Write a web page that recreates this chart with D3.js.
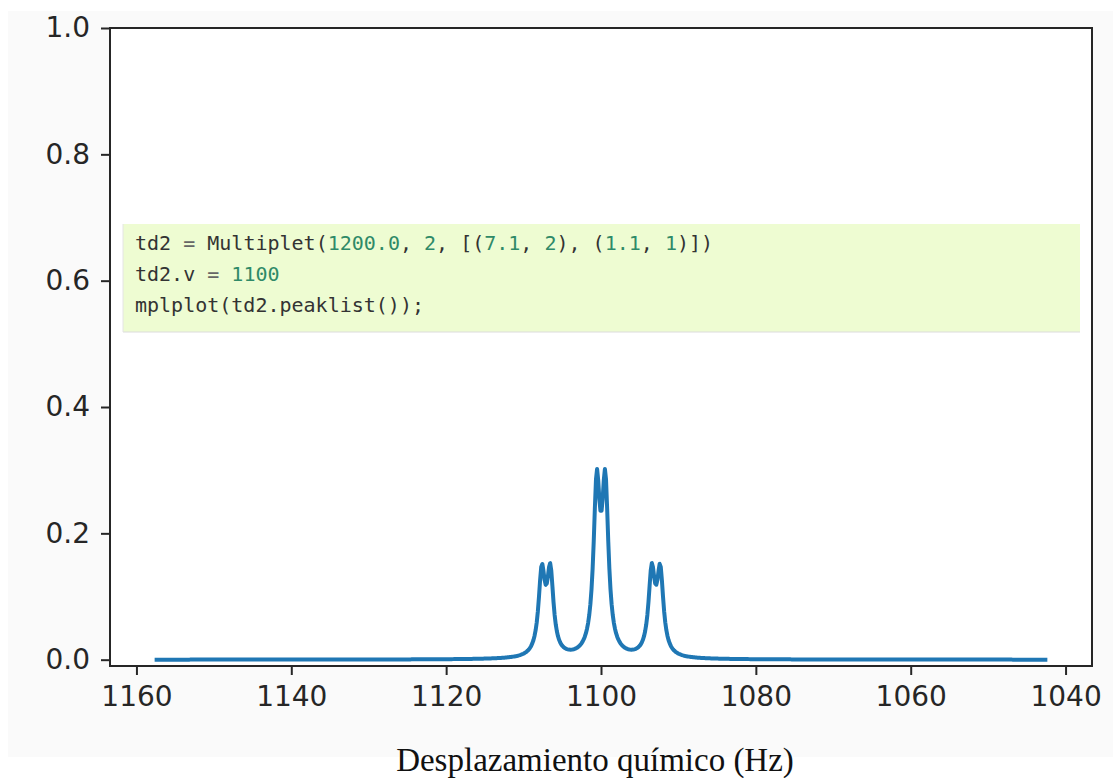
<!DOCTYPE html>
<html>
<head>
<meta charset="utf-8">
<script src="https://cdn.jsdelivr.net/npm/d3@7"></script>
<style>
  body { margin: 0; background: #fff; }
  svg { display: block; }
</style>
</head>
<body>
<div id="chart"></div>
<script>
// peak list (Hz, intensity), 1 Hz linewidth
const peakFreqs = [1092.35, 1093.45, 1099.45, 1100.55, 1106.55, 1107.65];
const peakInts = [0.4, 0.4, 0.8, 0.8, 0.4, 0.4];
const lineWidthHz = 1;
const nPoints = 800;

const xTicks = [1160, 1140, 1120, 1100, 1080, 1060, 1040];
const yTicks = [0.0, 0.2, 0.4, 0.6, 0.8, 1.0];
const yLimits = [-0.01, 1];

const xLabel = 'Desplazamiento químico (Hz)';

// code cell text, [token, kind]
const codeLines = [
    [['td2 ', 'id'], ['=', 'op'], [' Multiplet(', 'id'], ['1200.0', 'num'], [', ', 'id'], ['2', 'num'],
     [', [(', 'id'], ['7.1', 'num'], [', ', 'id'], ['2', 'num'], ['), (', 'id'], ['1.1', 'num'],
     [', ', 'id'], ['1', 'num'], [')])', 'id']],
    [['td2.v ', 'id'], ['=', 'op'], [' ', 'id'], ['1100', 'num']],
    [['mplplot(td2.peaklist());', 'id']]
];

(function(){
    const W = 1117, H = 778;
    const margin = { top: 28, left: 110, bottom: 112, right: 25 };
    const width = W - margin.left - margin.right;
    const height = H - margin.top - margin.bottom;

    const svg = d3.select('#chart')
        .append('svg')
            .attr('width', W)
            .attr('height', H);

    // light grey page behind the figure
    svg.append('rect')
        .attr('x', 8).attr('y', 11)
        .attr('width', 1105).attr('height', 746)
        .attr('fill', '#fafafa');

    const g = svg.append('g')
        .attr('transform', `translate(${margin.left}, ${margin.top})`);

    g.append('rect')
        .attr('width', width)
        .attr('height', height)
        .attr('fill', '#fff');

    // sum of lorentzians over the peak list
    const lo = d3.min(peakFreqs) - 50;
    const hi = d3.max(peakFreqs) + 50;
    const pad = (hi - lo) * 0.05;
    const spectrum = d3.range(nPoints).map(i => {
        const v = lo + i * (hi - lo) / (nPoints - 1);
        const hw = lineWidthHz / 2;
        const y = d3.sum(peakFreqs, (v0, k) =>
            0.5 / Math.PI * peakInts[k] * hw / ((v - v0) * (v - v0) + hw * hw));
        return { v, y };
    });

    const xScale = d3.scaleLinear()
        .domain([hi + pad, lo - pad])
        .range([0, width]);

    const yScale = d3.scaleLinear()
        .domain(yLimits)
        .range([height, 0]);

    const line = d3.line()
        .x(d => xScale(d.v))
        .y(d => yScale(d.y));

    g.append('path')
        .datum(spectrum)
        .attr('fill', 'none')
        .attr('stroke', '#1f77b4')
        .attr('stroke-width', 4)
        .attr('stroke-linejoin', 'round')
        .attr('d', line);

    const xAxis = d3.axisBottom(xScale)
        .tickValues(xTicks)
        .tickFormat(d3.format('d'))
        .tickSize(9)
        .tickPadding(11);

    const yAxis = d3.axisLeft(yScale)
        .tickValues(yTicks)
        .tickFormat(d3.format('.1f'))
        .tickSize(9)
        .tickPadding(11);

    const styleAxis = sel => {
        sel.select('.domain').remove();
        sel.selectAll('line').attr('stroke', '#262626').attr('stroke-width', 2);
        sel.selectAll('text')
            .attr('fill', '#262626')
            .style('font-family', 'DejaVu Sans')
            .style('font-size', '28px');
    };

    g.append('g')
        .attr('transform', `translate(0, ${height})`)
        .call(xAxis)
        .call(styleAxis);

    g.append('g')
        .call(yAxis)
        .call(styleAxis);

    // frame
    g.append('rect')
        .attr('width', width)
        .attr('height', height)
        .attr('fill', 'none')
        .attr('stroke', '#262626')
        .attr('stroke-width', 2);

    // code cell pasted over the plot
    const box = svg.append('g').attr('transform', 'translate(123, 224)');
    box.append('rect')
        .attr('width', 957)
        .attr('height', 108)
        .attr('fill', '#eefcd2');
    box.append('line')
        .attr('x1', 0).attr('x2', 957)
        .attr('y1', 108).attr('y2', 108)
        .attr('stroke', '#dcdcdc');
    box.append('line')
        .attr('x1', 0).attr('x2', 0)
        .attr('y1', 0).attr('y2', 108)
        .attr('stroke', '#e4e4e4');

    const colors = { id: '#333333', op: '#666666', num: '#2f8a68' };
    const code = box.append('text')
        .attr('xml:space', 'preserve')
        .style('font-family', 'DejaVu Sans Mono')
        .style('font-size', '20px');
    codeLines.forEach((tokens, i) => {
        tokens.forEach((t, j) => {
            const ts = code.append('tspan')
                .attr('fill', colors[t[1]])
                .style('white-space', 'pre')
                .text(t[0]);
            if (j === 0) ts.attr('x', 12).attr('y', 26 + i * 31);
        });
    });

    svg.append('text')
        .attr('x', 595)
        .attr('y', 771)
        .attr('text-anchor', 'middle')
        .style('font-family', 'Liberation Serif')
        .style('font-size', '33px')
        .attr('fill', '#111')
        .text(xLabel);
}())
</script>
</body>
</html>
